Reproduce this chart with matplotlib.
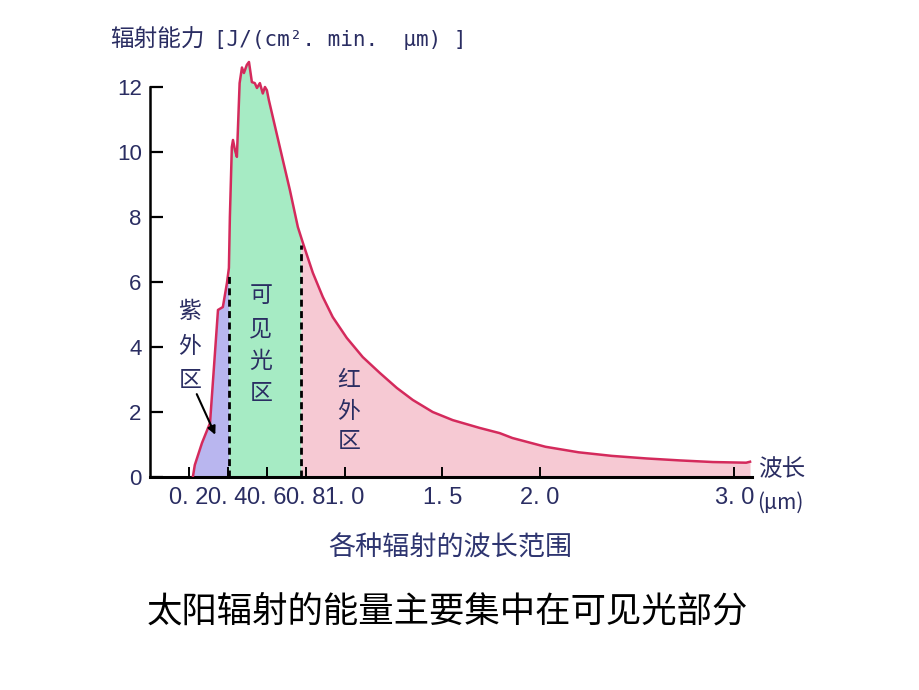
import numpy as np
import matplotlib
matplotlib.use("Agg")
import matplotlib.pyplot as plt

plt.rcParams['font.family'] = ['Noto Sans CJK SC', 'DejaVu Sans']

# solar spectrum (wavelength in um, irradiance)
wavelength = np.array([0.22, 0.23, 0.267, 0.308, 0.349, 0.374, 0.395, 0.405, 0.41, 0.42,
                       0.426, 0.436, 0.446, 0.46, 0.472, 0.482, 0.497, 0.508, 0.523, 0.538,
                       0.549, 0.564, 0.579, 0.59, 0.60, 0.61, 0.682, 0.718, 0.759, 0.785,
                       0.836, 0.887, 0.938, 1.01, 1.092, 1.18, 1.267, 1.349, 1.451, 1.554,
                       1.692, 1.795, 1.86, 2.03, 2.2, 2.37, 2.55, 2.72, 2.89, 3.06, 3.08])
irradiance = np.array([0, 0.37, 1.05, 1.66, 5.14, 5.23, 5.97, 6.43, 8.0, 10.15,
                       10.37, 10.06, 9.85, 12.12, 12.6, 12.43, 12.68, 12.77, 12.15, 12.12,
                       11.97, 12.12, 11.8, 12.0, 11.9, 11.6, 9.75, 8.83, 7.69, 7.2,
                       6.28, 5.54, 4.92, 4.28, 3.69, 3.2, 2.74, 2.37, 2.0, 1.75,
                       1.51, 1.35, 1.2, 0.93, 0.76, 0.65, 0.57, 0.51, 0.46, 0.44, 0.47])

# region boundaries (um)
uv_edge = 0.405
ir_edge = 0.775

x_ticks = [0.2, 0.4, 0.6, 0.8, 1.0, 1.5, 2.0, 3.0]
x_ticklabels = ["0. 2", "0. 4", "0. 6", "0. 8", "1. 0", "1. 5", "2. 0", "3. 0"]
y_ticks = [0, 2, 4, 6, 8, 10, 12]

navy = "#2a2d62"
line_color = "#d42a5c"


def band(ax, lo, hi, color):
    mask = (wavelength > lo) & (wavelength < hi)
    xs = np.concatenate([[lo], wavelength[mask], [hi]])
    ys = np.interp(xs, wavelength, irradiance)
    ax.fill_between(xs, 0, ys, color=color, lw=0, zorder=1)


def vertical_text(ax, x, y_top, s, step=1.0, **kw):
    for i, ch in enumerate(s):
        ax.text(x, y_top - i * step, ch, ha="center", va="center", **kw)


fig = plt.figure(figsize=(9.2, 6.9), dpi=100)
ax = fig.add_axes([150 / 920, 1 - 477 / 690, 602 / 920, (477 - 48) / 690])

band(ax, wavelength[0], uv_edge, "#b9b6ef")
band(ax, uv_edge, ir_edge, "#a6ebc4")
band(ax, ir_edge, wavelength[-1], "#f6c9d3")
ax.plot(wavelength, irradiance, color=line_color, lw=1.8, zorder=3)

for edge in (uv_edge, ir_edge):
    top = np.interp(edge, wavelength, irradiance) - 0.25
    ax.plot([edge, edge], [0, top], color="black", lw=2,
            linestyle=(0, (2.5, 1.6)), zorder=4)

ax.set_xlim(0, 3.09)
ax.set_ylim(0, 13.2)
for side in ("top", "right"):
    ax.spines[side].set_visible(False)
ax.spines["left"].set_bounds(0, 12)
ax.spines["left"].set_linewidth(1.8)
ax.spines["bottom"].set_linewidth(2.2)

ax.set_yticks(y_ticks)
ax.set_yticklabels([str(v) for v in y_ticks], family="Liberation Sans",
                   fontsize=16, color=navy)
ax.tick_params(axis="y", direction="in", length=9.5, width=1.6, pad=6)
ax.set_xticks(x_ticks)
ax.set_xticklabels(x_ticklabels, family="Liberation Sans", fontsize=17, color=navy)
ax.tick_params(axis="x", direction="in", length=7, width=1.4, pad=7)

txt = dict(color=navy, fontsize=16.5)
vertical_text(ax, 0.205, 5.08, "紫外区", step=1.05, **txt)
vertical_text(ax, 0.569, 5.57, "可见光区", step=1.0, **txt)
vertical_text(ax, 1.02, 2.98, "红外区", step=0.95, **txt)

ax.annotate("", xy=(0.335, 1.3), xytext=(0.24, 2.55),
            arrowprops=dict(arrowstyle="-|>", color="black", lw=1.5,
                            mutation_scale=12, shrinkA=0, shrinkB=0), zorder=5)

fig.text(110 / 920, 1 - 40 / 690, "辐射能力", color=navy, fontsize=17,
         va="center", ha="left")
fig.text(214 / 920, 1 - 40 / 690, "[J/(cm². min.  μm) ]",
         family=["DejaVu Sans Mono", "Noto Sans CJK SC"],
         color=navy, fontsize=15, va="center", ha="left")
fig.text(758 / 920, 1 - 470 / 690, "波长", color=navy, fontsize=17,
         va="center", ha="left")
fig.text(757 / 920, 1 - 503 / 690, "(μm)", color=navy, fontsize=15,
         va="center", ha="left")
fig.text(450 / 920, 1 - 548 / 690, "各种辐射的波长范围", color="#2e3570",
         fontsize=19.5, va="center", ha="center")
fig.text(447 / 920, 1 - 612 / 690, "太阳辐射的能量主要集中在可见光部分",
         color="black", fontsize=25.5, va="center", ha="center")

fig.savefig("out.png", dpi=100, facecolor="white")
